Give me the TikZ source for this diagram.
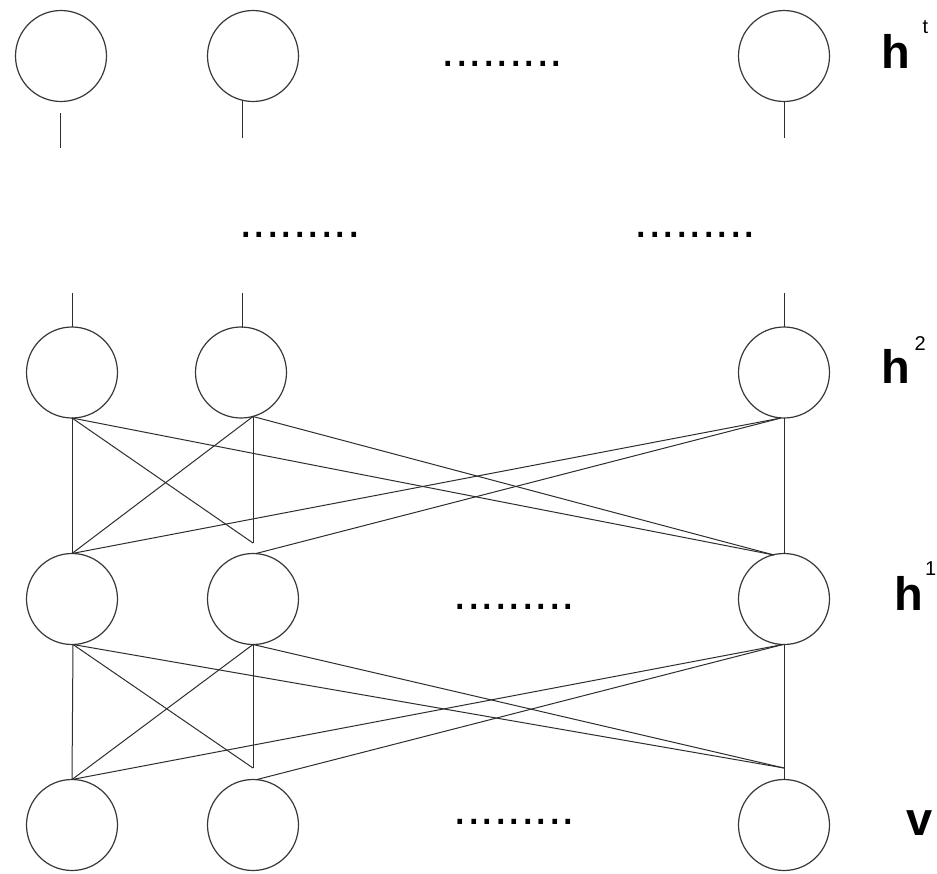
\documentclass[tikz,border=0pt]{standalone}
\usepackage{fontspec}
\setmainfont{Liberation Sans}
\newcommand\mysupsz{\fontsize{20}{20}\selectfont}
\newcommand\mybigsz{\fontsize{47}{47}\selectfont}
\newcommand\mydotsz{\fontsize{48.5}{48.5}\selectfont}
\begin{document}
\begin{tikzpicture}[x=1pt,y=-1pt,
  neuron/.style={circle,draw=black!78,line width=1.2pt,minimum size=91pt,inner sep=0pt},
  wire/.style={draw=black!82,line width=1pt},
  lab/.style={anchor=base west,inner sep=0pt,font=\mybigsz\bfseries},
  dotrow/.style={anchor=base,inner sep=0pt,font=\mydotsz}]
\useasboundingbox[fill=white] (0,0) rectangle (937,873);

% neurons
\node[neuron] (t1) at (61,56) {};
\node[neuron] (t2) at (253,56) {};
\node[neuron] (t3) at (784,56) {};
\node[neuron] (a1) at (72,372.5) {};
\node[neuron] (a2) at (241,372.5) {};
\node[neuron] (a3) at (784,372.5) {};
\node[neuron] (b1) at (72,599) {};
\node[neuron] (b2) at (253,599) {};
\node[neuron] (b3) at (784,599) {};
\node[neuron] (c1) at (72,825) {};
\node[neuron] (c2) at (253,825) {};
\node[neuron] (c3) at (784,825) {};

% stems
\coordinate (s1a) at (60,113); \coordinate (s1b) at (60,148);
\coordinate (s2a) at (242,100); \coordinate (s2b) at (242,138);
\coordinate (s3a) at (784,101.5); \coordinate (s3b) at (784,138);
\coordinate (u1a) at (72,293); \coordinate (u1b) at (72,327);
\coordinate (u2a) at (242,293); \coordinate (u2b) at (242,327.5);
\coordinate (u3a) at (784,293); \coordinate (u3b) at (784,327);
\draw[wire] (s1a) -- (s1b);
\draw[wire] (s2a) -- (s2b);
\draw[wire] (s3a) -- (s3b);
\draw[wire] (u1a) -- (u1b);
\draw[wire] (u2a) -- (u2b);
\draw[wire] (u3a) -- (u3b);

% junctions h2 -> h1
\coordinate (a1b) at (72,418);
\coordinate (a2b) at (253,416.5);
\coordinate (a3b) at (781,418);
\coordinate (a3v) at (784,418);
\coordinate (b1t) at (72,553.5);
\coordinate (b2x) at (253,543);
\coordinate (b2t) at (256,553.5);
\coordinate (b3x) at (774,555);
\coordinate (b3v) at (784,553.5);
\draw[wire] (a1b) -- (b1t);
\draw[wire] (a2b) -- (b2x);
\draw[wire] (a3v) -- (b3v);
\draw[wire] (a1b) -- (b2x);
\draw[wire] (a2b) -- (b1t);
\draw[wire] (a1b) -- (b3x);
\draw[wire] (a2b) -- (b3x);
\draw[wire] (a3b) -- (b1t);
\draw[wire] (a3b) -- (b2t);

% junctions h1 -> v
\coordinate (b1b) at (73,644.5);
\coordinate (b2b) at (253,644.5);
\coordinate (b3b) at (783,644.5);
\coordinate (b3w) at (784,644.5);
\coordinate (c1t) at (72,779.5);
\coordinate (c2x) at (253,768);
\coordinate (c2t) at (257,779.5);
\coordinate (c3x) at (784,768);
\coordinate (c3v) at (784,779.5);
\draw[wire] (b1b) -- (c1t);
\draw[wire] (b2b) -- (c2x);
\draw[wire] (b3w) -- (c3v);
\draw[wire] (b1b) -- (c2x);
\draw[wire] (b2b) -- (c1t);
\draw[wire] (b1b) -- (c3x);
\draw[wire] (b2b) -- (c3x);
\draw[wire] (b3b) -- (c1t);
\draw[wire] (b3b) -- (c2t);

% dots
\node[dotrow] (d1) at (502.5,66.4) {.........};
\node[dotrow] (d2) at (300,237.4) {.........};
\node[dotrow] (d3) at (695.5,237.4) {.........};
\node[dotrow] (d4) at (514.5,609.4) {.........};
\node[dotrow] (d5) at (514.5,824.4) {.........};

% labels
\node[lab] (lt) at (881.7,68) {h\hspace{12pt}\raisebox{35pt}{\mdseries\mysupsz t}};
\node[lab] (l2) at (881.7,383) {h\hspace{4pt}\raisebox{33pt}{\mdseries\mysupsz 2}};
\node[lab] (l1) at (894.7,610) {h\hspace{1.5pt}\raisebox{35pt}{\mdseries\mysupsz 1}};
\node[lab] (lv) at (906.3,835) {v};
\end{tikzpicture}
\end{document}
